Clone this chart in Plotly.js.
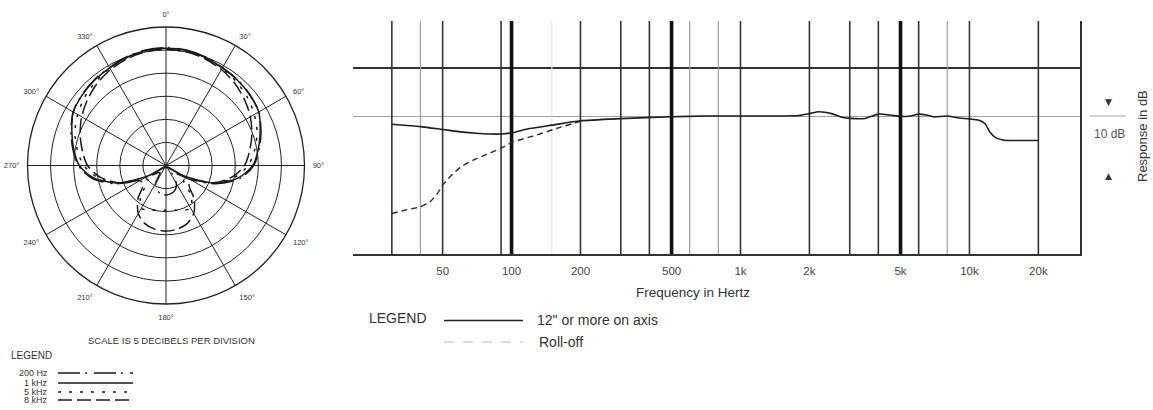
<!DOCTYPE html>
<html><head><meta charset="utf-8">
<script src="https://cdn.plot.ly/plotly-3.0.1.min.js"></script>
<style>html,body{margin:0;padding:0;background:#fff}#chart{width:1153px;height:410px}</style>
</head><body><div id="chart"></div>
<script>
const W = 1153, H = 410;

// ---------- Polar pattern data (dB, 0 dB = on-axis) ----------
const ANGLES = [0,10,20,30,40,50,60,70,80,90,100,110,120,130,140,150,160,170,180,
                190,200,210,220,230,240,250,260,270,280,290,300,310,320,330,340,350,360];
const DB_200HZ = [0.5,0.4,0.0,-0.5,-0.8,-1.2,-1.8,-3.1,-4.5,-6.0,-8.8,-13.5,-19.0,-22.5,-23.0,-20.5,-19.3,-18.8,-18.6,
                  -18.8,-19.3,-20.5,-23.0,-22.5,-19.0,-13.5,-8.8,-6.0,-4.5,-3.1,-1.8,-1.2,-0.8,-0.5,0.0,0.4,0.5];
const DB_1KHZ  = [0.4,0.3,-0.1,-0.6,-0.9,-1.3,-1.8,-3.3,-4.7,-6.2,-9.2,-14.0,-20.5,-24.0,-24.5,-24.5,-24.5,-24.5,-24.5,
                  -24.5,-24.5,-24.5,-24.5,-24.0,-20.5,-14.0,-9.2,-6.2,-4.7,-3.3,-1.8,-1.3,-0.9,-0.6,-0.1,0.3,0.4];
const DB_5KHZ  = [0.3,0.2,-0.2,-0.7,-1.3,-2.0,-2.9,-4.0,-5.5,-7.2,-10.0,-14.0,-19.0,-20.0,-16.5,-14.3,-14.7,-15.2,-15.3,
                  -15.2,-14.7,-14.3,-16.5,-20.0,-19.0,-14.0,-10.0,-7.2,-5.5,-4.0,-2.9,-2.0,-1.3,-0.7,-0.2,0.2,0.3];
const DB_8KHZ  = [0.2,0.0,-0.4,-1.0,-1.8,-2.8,-3.9,-5.2,-6.6,-8.0,-10.5,-14.0,-18.5,-18.5,-15.5,-13.0,-11.6,-11.0,-10.8,
                  -11.0,-11.6,-13.0,-15.5,-18.5,-18.5,-14.0,-10.5,-8.0,-6.6,-5.2,-3.9,-2.8,-1.8,-1.0,-0.4,0.0,0.2];
const POLAR_ANGLE_TICKS = [0,30,60,90,120,150,180,210,240,270,300,330];
const POLAR_ANGLE_LABELS = ['0°','30°','60°','90°','120°','150°','180°','210°','240°','270°','300°','330°'];
const POLAR_RINGS = [-20,-15,-10,-5,0];
const POLAR_RANGE = [-25, 5];
const POLAR_LEGEND_LABELS = ['200 Hz','1 kHz','5 kHz','8 kHz'];

// ---------- Frequency response data ----------
const FREQ_ON_AXIS = [30,40,50,60,70,80,90,100,120,150,200,300,500,700,1000,1500,1800,2000,2200,2500,2800,3000,3500,
                      4000,4500,5000,5500,6000,6500,7000,8000,9000,10000,11000,11700,12300,13000,14000,15000,17000,20000];
const DB_ON_AXIS   = [-1.7,-2.2,-2.8,-3.3,-3.6,-3.75,-3.75,-3.5,-2.6,-1.9,-1.0,-0.55,-0.15,0,0,0,0.1,0.5,0.9,0.5,-0.3,-0.5,-0.5,
                      0.4,0.2,-0.1,0,0.4,0.2,-0.2,0,-0.4,-0.6,-0.9,-1.6,-3.4,-4.5,-5.0,-5.1,-5.1,-5.1];
const FREQ_ROLLOFF = [30,35,40,44,48,50,54,60,68,75,90,102,124,157,200];
const DB_ROLLOFF   = [-20.3,-19.5,-18.9,-17.9,-15.8,-14.4,-12.6,-10.6,-9.2,-8.3,-6.7,-5.35,-4.2,-2.6,-1.1];
const FREQ_TICKS = [50,100,200,500,1000,2000,5000,10000,20000];
const FREQ_TICK_LABELS = ['50','100','200','500','1k','2k','5k','10k','20k'];
const GRID_DARK  = [30,50,90,200,300,400,1000,2000,3000,4000,6000,10000,20000];
const GRID_HEAVY = [100,500,5000];
const GRID_GRAY  = [40,600,800,8000];
const GRID_FAINT = [150];
const FREQ_RANGE_HZ = [20.3, 30400];
const DB_RANGE = [-28.75, 19.8];
const DB_GRID = [10];

// ---------- helpers (layout positions in pixels -> paper) ----------
const px = x => x / W;
const py = y => 1 - y / H;
const INK = '#222';
const TXT = '#333';
const FONT = 'Liberation Sans, Arial, sans-serif';

const DASH_200 = '22px,5px,2px,7px';
const DASH_1K = 'solid';
const DASH_5K = '3px,8px';
const DASH_8K = '14px,5px';
const POLAR_DASHES = [DASH_200, DASH_1K, DASH_5K, DASH_8K];

const traces = [];

// vertical frequency grid lines, drawn as data on the log axis
function gridTrace(freqs, color, width) {
  const xs = [], ys = [];
  freqs.forEach(f => { xs.push(f, f, null); ys.push(DB_RANGE[0], DB_RANGE[1], null); });
  return {type: 'scatter', xaxis: 'x2', yaxis: 'y2', mode: 'lines', x: xs, y: ys,
    showlegend: false, hoverinfo: 'skip', connectgaps: false,
    line: {color: color, width: width}};
}
traces.push(gridTrace(GRID_FAINT, '#e0e0e0', 1));
traces.push(gridTrace(GRID_GRAY, '#a0a0a0', 1.2));
traces.push(gridTrace(GRID_DARK, '#333', 1.6));
traces.push(gridTrace(GRID_HEAVY, '#111', 3.6));

const polarSeries = [DB_200HZ, DB_1KHZ, DB_5KHZ, DB_8KHZ];
polarSeries.forEach((r, i) => traces.push({
  type: 'scatterpolar', subplot: 'polar', mode: 'lines',
  r: r, theta: ANGLES, name: POLAR_LEGEND_LABELS[i], showlegend: false,
  line: {color: '#1a1a1a', width: 1.5, dash: POLAR_DASHES[i], shape: 'spline', smoothing: 0.8},
  hoverinfo: 'skip'
}));

traces.push({
  type: 'scatter', xaxis: 'x2', yaxis: 'y2', mode: 'lines',
  x: FREQ_ROLLOFF, y: DB_ROLLOFF, name: 'Roll-off', showlegend: false,
  line: {color: '#2a2a2a', width: 1.4, dash: '6px,4px', shape: 'spline', smoothing: 0.6}
});
traces.push({
  type: 'scatter', xaxis: 'x2', yaxis: 'y2', mode: 'lines',
  x: FREQ_ON_AXIS, y: DB_ON_AXIS, name: '12" or more on axis', showlegend: false,
  line: {color: '#1e1e1e', width: 1.6, shape: 'spline', smoothing: 0.6}
});

const logRange = FREQ_RANGE_HZ.map(v => Math.log10(v));

// polar legend swatches and labels
const shapes = [];
const annotations = [];
const legRows = [373, 383, 392, 400];
POLAR_LEGEND_LABELS.forEach((lab, i) => {
  shapes.push({type: 'line', xref: 'paper', yref: 'paper',
    x0: px(58), x1: px(133), y0: py(legRows[i]), y1: py(legRows[i]),
    line: {color: '#1a1a1a', width: 1.6, dash: POLAR_DASHES[i]}});
  annotations.push({xref: 'paper', yref: 'paper', x: px(50), y: py(legRows[i]),
    xanchor: 'right', yanchor: 'middle', showarrow: false, text: lab,
    font: {family: FONT, size: 9, color: TXT}});
});
annotations.push({xref: 'paper', yref: 'paper', x: px(9), y: py(355), xanchor: 'left', yanchor: 'middle',
  showarrow: false, text: 'LEGEND', font: {family: FONT, size: 10, color: TXT}});
annotations.push({xref: 'paper', yref: 'paper', x: px(171), y: py(340), xanchor: 'center', yanchor: 'middle',
  showarrow: false, text: 'SCALE IS 5 DECIBELS PER DIVISION', font: {family: FONT, size: 9.5, color: TXT}});

// right-chart legend
shapes.push({type: 'line', xref: 'paper', yref: 'paper', x0: px(444), x1: px(523), y0: py(320.5), y1: py(320.5),
  line: {color: '#222', width: 1.5}});
shapes.push({type: 'line', xref: 'paper', yref: 'paper', x0: px(444), x1: px(523), y0: py(342), y1: py(342),
  line: {color: '#bbb', width: 1.2, dash: '10px,9px'}});
annotations.push({xref: 'paper', yref: 'paper', x: px(367), y: py(318), xanchor: 'left', yanchor: 'middle',
  showarrow: false, text: 'LEGEND', font: {family: FONT, size: 14, color: TXT}});
annotations.push({xref: 'paper', yref: 'paper', x: px(535), y: py(320), xanchor: 'left', yanchor: 'middle',
  showarrow: false, text: '12" or more on axis', font: {family: FONT, size: 14, color: TXT}});
annotations.push({xref: 'paper', yref: 'paper', x: px(537), y: py(342), xanchor: 'left', yanchor: 'middle',
  showarrow: false, text: 'Roll-off', font: {family: FONT, size: 14, color: TXT}});
annotations.push({xref: 'paper', yref: 'paper', x: px(693), y: py(292), xanchor: 'center', yanchor: 'middle',
  showarrow: false, text: 'Frequency in Hertz', font: {family: FONT, size: 13.5, color: TXT}});
annotations.push({xref: 'paper', yref: 'paper', x: px(1142), y: py(136), xanchor: 'center', yanchor: 'middle',
  showarrow: false, textangle: -90, text: 'Response in dB', font: {family: FONT, size: 13, color: TXT}});
annotations.push({xref: 'paper', yref: 'paper', x: px(1109), y: py(134), xanchor: 'center', yanchor: 'middle',
  showarrow: false, text: '10 dB', font: {family: FONT, size: 12, color: '#555'}});
annotations.push({xref: 'paper', yref: 'paper', x: px(1108), y: py(102), xanchor: 'center', yanchor: 'middle',
  showarrow: false, text: '▼', font: {family: 'DejaVu Sans', size: 9, color: TXT}});
annotations.push({xref: 'paper', yref: 'paper', x: px(1108), y: py(176), xanchor: 'center', yanchor: 'middle',
  showarrow: false, text: '▲', font: {family: 'DejaVu Sans', size: 9, color: TXT}});
shapes.push({type: 'line', xref: 'paper', yref: 'paper', x0: px(1089), x1: px(1126), y0: py(116), y1: py(116),
  line: {color: '#aaa', width: 1}});

const layout = {
  width: W, height: H,
  margin: {l: 0, r: 0, t: 0, b: 0},
  paper_bgcolor: '#fff', plot_bgcolor: '#fff',
  showlegend: false,
  font: {family: FONT, color: TXT},
  polar: {
    domain: {x: [px(27.5), px(304.5)], y: [py(304), py(27)]},
    bgcolor: '#fff',
    angularaxis: {
      rotation: 90, direction: 'clockwise',
      tickvals: POLAR_ANGLE_TICKS, ticktext: POLAR_ANGLE_LABELS,
      tickfont: {family: FONT, size: 7.5, color: TXT},
      ticks: 'outside', ticklen: 6, tickcolor: 'rgba(0,0,0,0)',
      showline: true, linecolor: INK, linewidth: 1.3,
      showgrid: true, gridcolor: INK, gridwidth: 1
    },
    radialaxis: {
      range: POLAR_RANGE, tickvals: POLAR_RINGS, showticklabels: false, ticks: '',
      showline: false, showgrid: true, gridcolor: INK, gridwidth: 1
    }
  },
  xaxis2: {
    type: 'log', range: logRange, domain: [px(353), px(1080)], anchor: 'y2',
    tickvals: FREQ_TICKS, ticktext: FREQ_TICK_LABELS,
    tickfont: {family: FONT, size: 11.5, color: '#444'},
    ticks: '', ticklabelstandoff: 5,
    showgrid: false,
    showline: true, linecolor: '#333', linewidth: 2,
    zeroline: false, fixedrange: true
  },
  yaxis2: {
    range: DB_RANGE, domain: [py(254), py(21)], anchor: 'x2', side: 'right',
    tickvals: DB_GRID, showticklabels: false, ticks: '',
    showgrid: true, gridcolor: '#333', gridwidth: 1.6,
    zeroline: true, zerolinecolor: '#a0a0a0', zerolinewidth: 1,
    showline: true, linecolor: '#333', linewidth: 1.8, fixedrange: true
  },
  shapes: shapes,
  annotations: annotations
};

Plotly.newPlot('chart', traces, layout, {staticPlot: true, displayModeBar: false});
</script>
</body></html>
